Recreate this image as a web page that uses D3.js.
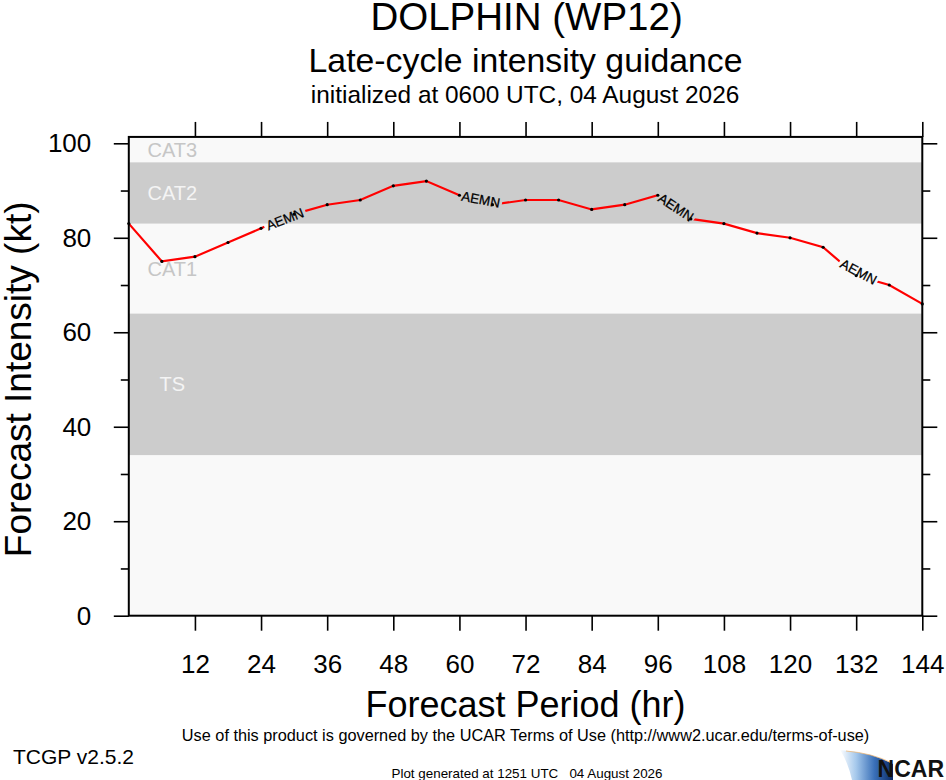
<!DOCTYPE html>
<html>
<head>
<meta charset="utf-8">
<script src="https://cdn.jsdelivr.net/npm/d3@7"></script>
<style>
  body { margin: 0; background: #fff; }
  svg { display: block; }
  text { font-family: "Liberation Sans", Arial, Helvetica, sans-serif; }
</style>
</head>
<body>
<svg id="chart" width="946" height="780"></svg>
<script>
// forecast hours and AEMN intensity (kt)
const hours = [0, 6, 12, 18, 24, 30, 36, 42, 48, 54, 60, 66, 72, 78, 84, 90, 96, 102, 108, 114, 120, 126, 132, 138, 144];
const intensity = [83, 75, 76, 79, 82, 85, 87, 88, 91, 92, 89, 87, 88, 88, 86, 87, 89, 84, 83, 81, 80, 78, 72, 70, 66];

// intensity category bands
const bandNames = ["TD", "TS", "CAT1", "CAT2", "CAT3"];
const bandLow = [0, 34, 64, 83, 96];
const bandHigh = [34, 64, 83, 96, 101.35];
const bandShaded = [false, true, false, true, false];

const modelName = "AEMN";
const labelHours = [24.6, 60, 96, 129];   // where the in-line model labels start

const xTicks = [12, 24, 36, 48, 60, 72, 84, 96, 108, 120, 132, 144];
const yTicks = [0, 20, 40, 60, 80, 100];
const yMinor = [10, 30, 50, 70, 90];

const svg = d3.select("#chart");
const plotL = 128.8, plotR = 922.3, plotB = 615.7;

const x = d3.scaleLinear().domain([0, 144]).range([plotL, plotR]);
const y = d3.scaleLinear().domain([0, 100]).range([plotB, 143.3]);
const plotT = y(101.35);

// background bands
svg.append("g").selectAll("rect")
  .data(bandNames)
  .join("rect")
  .attr("x", plotL)
  .attr("width", plotR - plotL)
  .attr("y", (d, i) => y(bandHigh[i]))
  .attr("height", (d, i) => y(bandLow[i]) - y(bandHigh[i]))
  .attr("fill", (d, i) => bandShaded[i] ? "#cccccc" : "#f9f9f9");

svg.append("g").selectAll("text")
  .data(bandNames.slice(1))
  .join("text")
  .attr("x", x(7.9))
  .attr("y", (d, i) => y((bandLow[i + 1] + bandHigh[i + 1]) / 2))
  .attr("dy", "0.36em")
  .attr("text-anchor", "middle")
  .attr("font-size", 20)
  .attr("fill", (d, i) => bandShaded[i + 1] ? "#f4f4f4" : "#c6c6c6")
  .text(d => d);

// line + model labels
const pts = hours.map((h, i) => [x(h), y(intensity[i])]);

function pointAtHour(h) {
  const i = Math.min(d3.bisectRight(hours, h) - 1, hours.length - 2);
  const t = (h - hours[i]) / (hours[i + 1] - hours[i]);
  return { i: i, p: [x(h), y(intensity[i] + t * (intensity[i + 1] - intensity[i]))] };
}
function walk(h, len) {
  let s = pointAtHour(h), p = s.p, i = s.i, rest = len;
  while (i < pts.length - 1) {
    const q = pts[i + 1];
    const d = Math.hypot(q[0] - p[0], q[1] - p[1]);
    if (d >= rest) return [p[0] + (q[0] - p[0]) * rest / d, p[1] + (q[1] - p[1]) * rest / d];
    rest -= d; p = q; i++;
  }
  return p;
}

const gapLen = 44;
const labels = labelHours.map(h => {
  const a = pointAtHour(h).p, b = walk(h, gapLen);
  return {
    cx: (a[0] + b[0]) / 2, cy: (a[1] + b[1]) / 2,
    len: Math.hypot(b[0] - a[0], b[1] - a[1]),
    ang: Math.atan2(b[1] - a[1], b[0] - a[0]) * 180 / Math.PI
  };
});

const defs = svg.append("defs");
const mask = defs.append("mask").attr("id", "gaps")
  .attr("maskUnits", "userSpaceOnUse").attr("x", 0).attr("y", 0).attr("width", 946).attr("height", 780);
mask.append("rect").attr("width", 946).attr("height", 780).attr("fill", "#fff");
mask.selectAll("rect.g").data(labels).join("rect").attr("class", "g")
  .attr("x", d => -d.len / 2).attr("y", -7).attr("width", d => d.len).attr("height", 14)
  .attr("transform", d => `translate(${d.cx},${d.cy}) rotate(${d.ang})`)
  .attr("fill", "#000");

const line = d3.line().x(d => x(d.h)).y(d => y(d.v));
svg.append("path")
  .datum(hours.map((h, i) => ({ h: h, v: intensity[i] })))
  .attr("d", line)
  .attr("fill", "none")
  .attr("stroke", "#ff0000")
  .attr("stroke-width", 2.2)
  .attr("mask", "url(#gaps)");

svg.append("g").selectAll("text")
  .data(labels)
  .join("text")
  .attr("transform", d => `translate(${d.cx},${d.cy}) rotate(${d.ang})`)
  .attr("text-anchor", "middle")
  .attr("dy", "0.36em")
  .attr("font-size", 13.5)
  .attr("fill", "#000")
  .attr("stroke", "#000").attr("stroke-width", 0.25)
  .text(modelName);

svg.append("g").selectAll("circle")
  .data(hours)
  .join("circle")
  .attr("cx", d => x(d))
  .attr("cy", (d, i) => y(intensity[i]))
  .attr("r", 1.6)
  .attr("fill", "#000");

// frame + axes
svg.append("rect")
  .attr("x", plotL).attr("y", plotT)
  .attr("width", plotR - plotL).attr("height", plotB - plotT)
  .attr("fill", "none").attr("stroke", "#000").attr("stroke-width", 2);

function styleAxis(g) {
  g.select(".domain").remove();
  g.selectAll(".tick line").attr("stroke", "#000").attr("stroke-width", 1.6);
  g.selectAll(".tick text").attr("fill", "#000").attr("font-family", "Liberation Sans, Arial, sans-serif");
}

svg.append("g").attr("transform", `translate(${plotL},0)`)
  .call(d3.axisLeft(y).tickValues(yTicks).tickSize(15).tickPadding(22.5).tickFormat(d3.format("d")))
  .call(styleAxis)
  .selectAll("text").attr("font-size", 26);
svg.append("g").attr("transform", `translate(${plotL},0)`)
  .call(d3.axisLeft(y).tickValues(yMinor).tickSize(8).tickFormat(""))
  .call(styleAxis);
svg.append("g").attr("transform", `translate(${plotR},0)`)
  .call(d3.axisRight(y).tickValues(yTicks).tickSize(15).tickFormat(""))
  .call(styleAxis);
svg.append("g").attr("transform", `translate(${plotR},0)`)
  .call(d3.axisRight(y).tickValues(yMinor).tickSize(8).tickFormat(""))
  .call(styleAxis);
svg.append("g").attr("transform", `translate(0,${plotB})`)
  .call(d3.axisBottom(x).tickValues(xTicks).tickSize(15).tickPadding(24).tickFormat(d3.format("d")))
  .call(styleAxis)
  .selectAll("text").attr("font-size", 26);
svg.append("g").attr("transform", `translate(0,${plotT})`)
  .call(d3.axisTop(x).tickValues(xTicks).tickSize(15).tickFormat(""))
  .call(styleAxis);

// titles
const cx = (plotL + plotR) / 2;
svg.append("text").attr("x", cx + 1).attr("y", 30).attr("text-anchor", "middle")
  .attr("font-size", 38.5).text("DOLPHIN (WP12)");
svg.append("text").attr("x", cx).attr("y", 71.5).attr("text-anchor", "middle")
  .attr("font-size", 33.8).text("Late-cycle intensity guidance");
svg.append("text").attr("x", cx - 0.5).attr("y", 103).attr("text-anchor", "middle")
  .attr("font-size", 24.4).text("initialized at 0600 UTC, 04 August 2026");

svg.append("text").attr("transform", `translate(31,${(plotT + plotB) / 2 + 3}) rotate(-90)`)
  .attr("text-anchor", "middle").attr("font-size", 37).text("Forecast Intensity (kt)");
svg.append("text").attr("x", cx).attr("y", 717).attr("text-anchor", "middle")
  .attr("font-size", 36).text("Forecast Period (hr)");

// footer
svg.append("text").attr("x", cx).attr("y", 740.5).attr("text-anchor", "middle")
  .attr("font-size", 16.3).text("Use of this product is governed by the UCAR Terms of Use (http://www2.ucar.edu/terms-of-use)");
svg.append("text").attr("x", 13).attr("y", 764).attr("font-size", 21).text("TCGP v2.5.2");
svg.append("text").attr("x", 527).attr("y", 778).attr("text-anchor", "middle")
  .attr("font-size", 13.4).style("white-space", "pre").text("Plot generated at 1251 UTC   04 August 2026");

// NCAR logo
const grad = defs.append("linearGradient").attr("id", "swoosh")
  .attr("x1", "0%").attr("y1", "0%").attr("x2", "100%").attr("y2", "0%");
grad.append("stop").attr("offset", "0%").attr("stop-color", "#ffffff");
grad.append("stop").attr("offset", "30%").attr("stop-color", "#a6c9ec");
grad.append("stop").attr("offset", "65%").attr("stop-color", "#3a70b8");
grad.append("stop").attr("offset", "100%").attr("stop-color", "#0b2a66");
svg.append("path")
  .attr("d", "M840,750 Q870,752 893,764 L893,780 L852,780 Q848,762 840,750 Z")
  .attr("fill", "url(#swoosh)");
svg.append("path")
  .attr("d", "M846,751 Q872,753 892,763")
  .attr("fill", "none").attr("stroke", "#f2b36a").attr("stroke-width", 1).attr("opacity", 0.7);
svg.append("text").attr("x", 944).attr("y", 777).attr("text-anchor", "end")
  .attr("font-size", 23).attr("font-weight", "bold").attr("fill", "#111").text("NCAR");
</script>
</body>
</html>
